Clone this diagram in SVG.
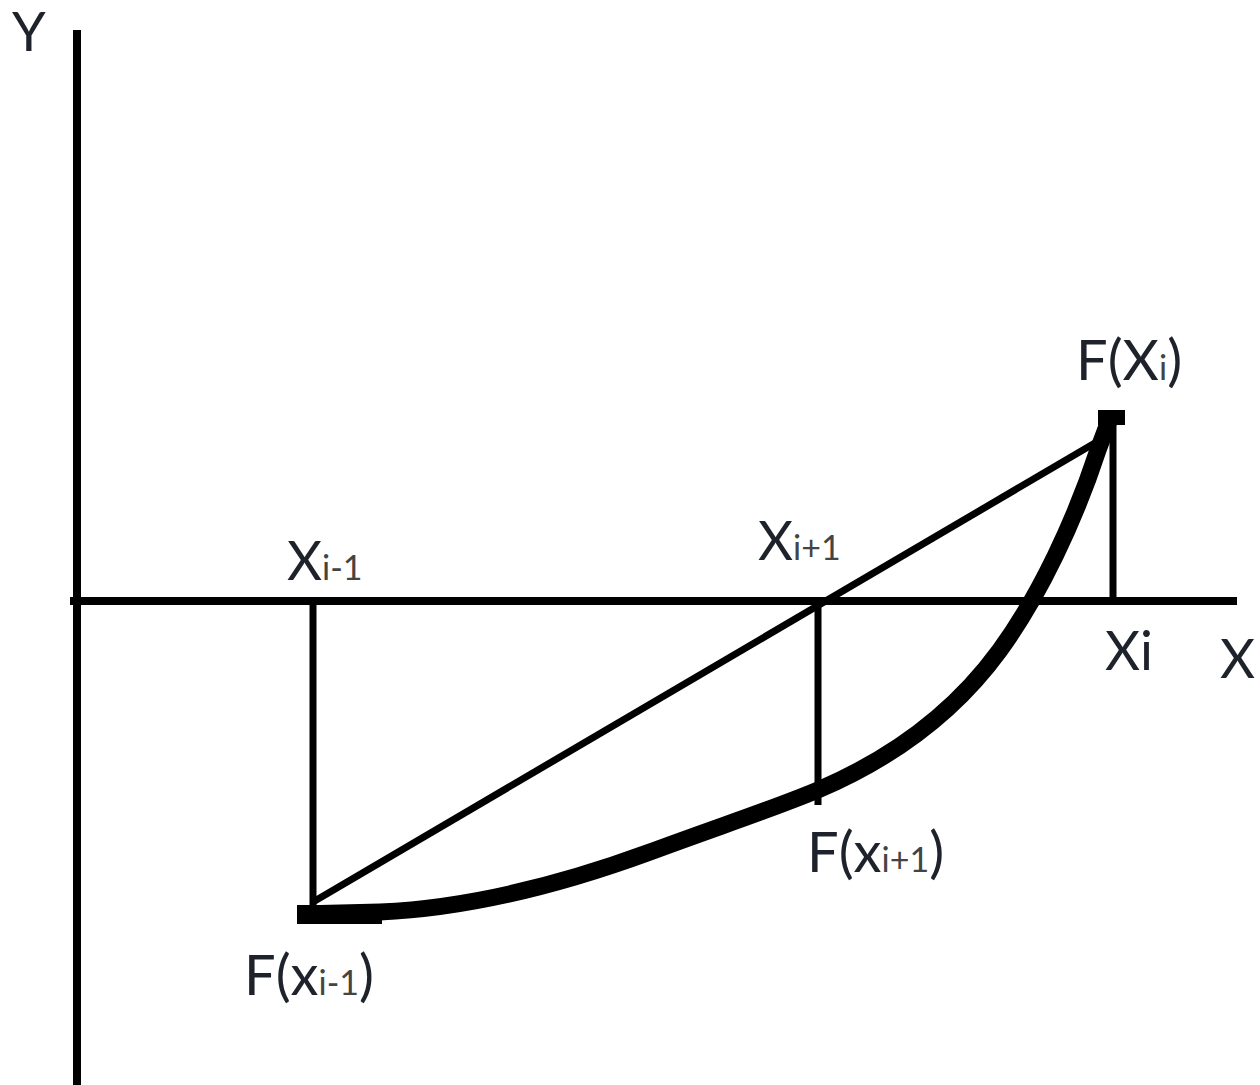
<svg xmlns="http://www.w3.org/2000/svg" width="1260" height="1085" viewBox="0 0 1260 1085">
<style>
.ax{stroke:#000;stroke-width:8;fill:none}
.ln{stroke:#000;stroke-width:7;fill:none}
.cv{stroke:#000;stroke-width:17;fill:none;stroke-linejoin:round}
.t{font-family:Lato,"Open Sans","Liberation Sans",sans-serif;font-size:54px;fill:#1e222a}
.f{font-size:56px}
.s{font-size:34px;fill:#444}
</style>
<rect width="1260" height="1085" fill="#fff"/>
<g id="connectors">
<line class="ax" x1="77" y1="30" x2="77" y2="1085"/>
<line class="ax" x1="70" y1="601" x2="1237" y2="601"/>
<line class="ln" x1="313" y1="601" x2="313" y2="905"/>
<line class="ln" x1="818" y1="601" x2="818" y2="805"/>
<line class="ln" x1="1113" y1="418" x2="1113" y2="604"/>
<line class="ln" x1="313" y1="902" x2="1100" y2="440"/>
<path class="cv" d="M300,914 L380,912 C470,908 560,885 650,852 C720,826 770,810 818,790 C900,755 960,705 1000,650 C1040,595 1075,520 1098,450 L1110,418"/>
<rect x="1098" y="410" width="27" height="15" fill="#000"/>
<rect x="297" y="905" width="85" height="19" fill="#000"/>
</g>
<g id="label-y"><text class="t" x="12" y="51">Y</text></g>
<g id="label-x"><text class="t" x="1220" y="678">X</text></g>
<g id="label-fxi"><text class="t f" x="1076" y="380">F(X<tspan class="s">i</tspan>)</text></g>
<g id="label-xim1"><text class="t" x="287" y="580">X<tspan class="s">i-1</tspan></text></g>
<g id="label-xip1"><text class="t" x="758" y="560">X<tspan class="s">i+1</tspan></text></g>
<g id="label-xi"><text class="t" x="1105" y="670">Xi</text></g>
<g id="label-fxip1"><text class="t f" x="807" y="872">F(x<tspan class="s">i+1</tspan>)</text></g>
<g id="label-fxim1"><text class="t f" x="244" y="995">F(x<tspan class="s">i-1</tspan>)</text></g>
</svg>
